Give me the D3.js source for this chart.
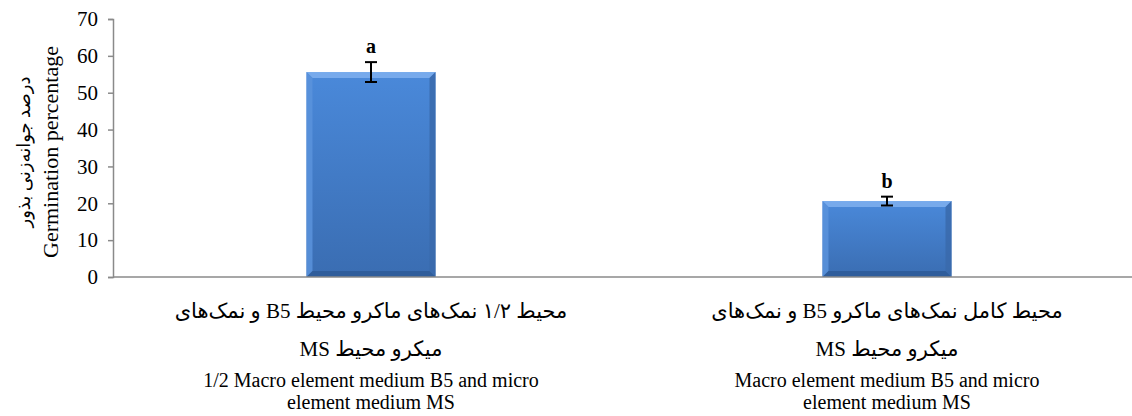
<!DOCTYPE html>
<html>
<head>
<meta charset="utf-8">
<script src="https://cdn.jsdelivr.net/npm/d3@7"></script>
<style>
  body { margin: 0; background: #fff; }
  svg { display: block; }
</style>
</head>
<body>
<div id="chart"></div>
<script>
// data
const categories = ['half', 'full'];
const labelsFa = [
    ['محیط ۱/۲ نمک‌های ماکرو محیط B5 و نمک‌های', 'میکرو محیط MS'],
    ['محیط کامل نمک‌های ماکرو B5 و نمک‌های', 'میکرو محیط MS']
];
const labelsEn = [
    ['1/2 Macro element medium B5 and micro', 'element medium MS'],
    ['Macro element medium B5 and micro', 'element medium MS']
];
const values = [55.6, 20.6];
const errors = [2.7, 1.2];
const letters = ['a', 'b'];
const yTicks = [0, 10, 20, 30, 40, 50, 60, 70];

const W = 1132, H = 416;
const serif = '"Liberation Serif", "Times New Roman", serif';
const faFont = '"Liberation Serif", "DejaVu Sans", serif';

const svg = d3.select('#chart').append('svg')
    .attr('width', W)
    .attr('height', H);

// plot area (runs past the right edge, as in the original)
const x0 = 113, x1 = 1145, yTop = 19, yBot = 277;

const x = d3.scaleBand().domain(categories).range([x0, x1]).paddingInner(0.75).paddingOuter(0.375);
const y = d3.scaleLinear().domain([0, 70]).range([yBot, yTop]);

// gradient for bars
const defs = svg.append('defs');
const grad = defs.append('linearGradient').attr('id', 'barGrad')
    .attr('x1', 0).attr('y1', 0).attr('x2', 0).attr('y2', 1);
grad.append('stop').attr('offset', '0%').attr('stop-color', '#4a89da');
grad.append('stop').attr('offset', '100%').attr('stop-color', '#3a6db2');

const bev = 6;
const bars = svg.append('g').selectAll('g').data(categories).enter().append('g');

bars.append('rect')
    .attr('x', d => x(d))
    .attr('y', (d, i) => y(values[i]))
    .attr('width', x.bandwidth())
    .attr('height', (d, i) => y(0) - y(values[i]))
    .attr('fill', 'url(#barGrad)');

// bevel edges
function bevel(d, i, side) {
    const l = x(d), r = x(d) + x.bandwidth(), t = y(values[i]), b = y(0);
    if (side == 'top') return [[l, t], [r, t], [r - bev, t + bev], [l + bev, t + bev]];
    if (side == 'left') return [[l, t], [l + bev, t + bev], [l + bev, b - bev], [l, b]];
    if (side == 'right') return [[r, t], [r, b], [r - bev, b - bev], [r - bev, t + bev]];
    return [[l, b], [l + bev, b - bev], [r - bev, b - bev], [r, b]];
}
const bevelFill = {top: '#7fb0ee', left: '#5a93dc', right: '#3a6aab', bottom: '#2e5a96'};
['top', 'left', 'right', 'bottom'].forEach(side => {
    bars.append('polygon')
        .attr('points', (d, i) => bevel(d, i, side).map(p => p.join(',')).join(' '))
        .attr('fill', bevelFill[side])
        .attr('opacity', 0.85);
});

// error bars and letters
const eb = svg.append('g').attr('stroke', '#000').attr('stroke-width', 2);
categories.forEach((d, i) => {
    const cx = x(d) + x.bandwidth() / 2;
    const hi = y(values[i] + errors[i]), lo = y(values[i] - errors[i]);
    eb.append('line').attr('x1', cx).attr('x2', cx).attr('y1', hi).attr('y2', lo);
    eb.append('line').attr('x1', cx - 6).attr('x2', cx + 6).attr('y1', hi).attr('y2', hi);
    eb.append('line').attr('x1', cx - 6).attr('x2', cx + 6).attr('y1', lo).attr('y2', lo);
    svg.append('text')
        .attr('x', cx)
        .attr('y', hi - 9)
        .attr('text-anchor', 'middle')
        .attr('font-family', serif)
        .attr('font-weight', 'bold')
        .attr('font-size', 20)
        .text(letters[i]);
});

// y axis
const yAxis = svg.append('g')
    .attr('transform', `translate(${x0},0)`)
    .call(d3.axisLeft(y).tickValues(yTicks).tickSize(5).tickPadding(10).tickFormat(d3.format('d')));
yAxis.selectAll('line, path').attr('stroke', '#8a8a8a').attr('stroke-width', 1.5);
yAxis.selectAll('text').attr('font-family', serif).attr('font-size', 21).attr('fill', '#000');

// x axis line
svg.append('line')
    .attr('x1', x0).attr('x2', x1)
    .attr('y1', y(0)).attr('y2', y(0))
    .attr('stroke', '#8a8a8a').attr('stroke-width', 1.5);

// category labels
categories.forEach((d, i) => {
    const cx = x(d) + x.bandwidth() / 2;
    labelsFa[i].forEach((t, k) => {
        svg.append('text')
            .attr('x', cx).attr('y', 318 + k * 38)
            .attr('text-anchor', 'middle')
            .attr('direction', 'rtl')
            .attr('font-family', faFont)
            .attr('font-size', 21)
            .text(t);
    });
    labelsEn[i].forEach((t, k) => {
        svg.append('text')
            .attr('x', cx).attr('y', 387 + k * 22)
            .attr('text-anchor', 'middle')
            .attr('font-family', serif)
            .attr('font-size', 20)
            .text(t);
    });
});

// y axis title
const yt = svg.append('g').attr('transform', 'translate(0,152) rotate(-90)');
yt.append('text')
    .attr('x', 0).attr('y', 30)
    .attr('text-anchor', 'middle')
    .attr('direction', 'rtl')
    .attr('font-family', faFont)
    .attr('font-size', 18)
    .text('درصد جوانه‌زنی بذور');
yt.append('text')
    .attr('x', 0).attr('y', 58)
    .attr('text-anchor', 'middle')
    .attr('font-family', serif)
    .attr('font-size', 22)
    .text('Germination percentage');
</script>
</body>
</html>
